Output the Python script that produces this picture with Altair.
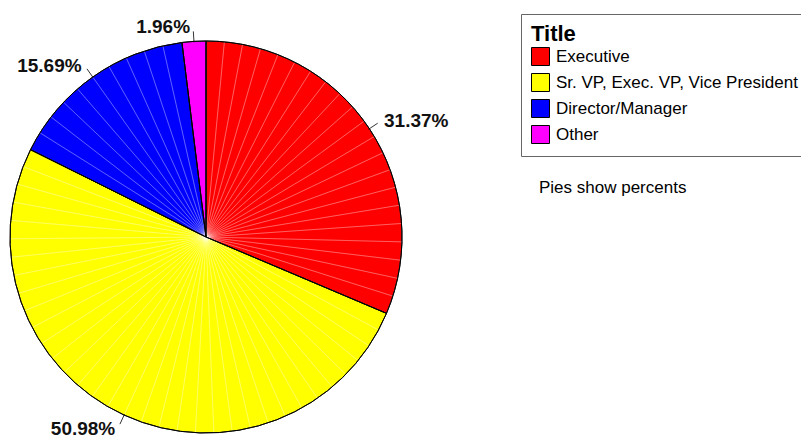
import math
import pandas as pd
import altair as alt

# ---- data ----
categories = ["Executive", "Sr. VP, Exec. VP, Vice President", "Director/Manager", "Other"]
percents = [31.37, 50.98, 15.69, 1.96]
labels = ["31.37%", "50.98%", "15.69%", "1.96%"]
colors = ["#FF0000", "#FFFF00", "#0000FF", "#FF00FF"]

# ---- layout constants (chart coordinates) ----
CX, CY, R = 198, 229, 196
STEP_DEG = 5.4  # facet size of the rendered pie polygon

total = sum(percents)
rows, sub_rows = [], []
cum = 0.0
for cat, p, lab in zip(categories, percents, labels):
    f0 = cum / total
    f1 = (cum + p) / total
    cum += p
    mid = (f0 + f1) / 2
    a = 2 * math.pi * mid
    s, c = math.sin(a), math.cos(a)
    rows.append(dict(
        category=cat, f0=f0, f1=f1, label=lab,
        lx1=CX + 195 * s, ly1=CY - 195 * c,
        lx2=CX + 206 * s, ly2=CY - 206 * c,
        tx=CX + 210 * s, ty=CY - 210 * c + (1 if c < -0.5 else 0),
        side="right" if s > 0 else "left",
    ))
    n = max(1, round((f1 - f0) * 360 / STEP_DEG))
    for k in range(n):
        sub_rows.append(dict(category=cat,
                             g0=f0 + (f1 - f0) * k / n,
                             g1=f0 + (f1 - f0) * (k + 1) / n))

main = pd.DataFrame(rows)
subs = pd.DataFrame(sub_rows)

theta_scale = alt.Scale(domain=[0, 1], range=[0, 2 * math.pi])
color_scale = alt.Scale(domain=categories, range=colors)

legend = alt.Legend(
    title="Title", orient="none", legendX=513, legendY=6,
    titleFont="Liberation Sans", titleFontSize=22, titleFontWeight="bold",
    titleColor="black", titlePadding=1,
    labelFont="Liberation Sans", labelFontSize=17, labelColor="black",
    labelOffset=6, labelLimit=400,
    symbolType="square", symbolSize=324, symbolStrokeColor="black",
    symbolStrokeWidth=1, symbolOpacity=1,
    rowPadding=3, padding=10, strokeColor="#666666", fillColor="white",
)

base_pos = dict(x=alt.value(CX), y=alt.value(CY))

filled = alt.Chart(main).mark_arc(radius=R, stroke="black", strokeWidth=1).encode(
    theta=alt.Theta("f0:Q", scale=theta_scale),
    theta2="f1:Q",
    color=alt.Color("category:N", scale=color_scale, legend=legend, sort=categories),
    **base_pos,
)

facets = alt.Chart(subs).mark_arc(
    radius=R, fill="white", fillOpacity=0, stroke="white",
    strokeOpacity=0.35, strokeWidth=0.6,
).encode(
    theta=alt.Theta("g0:Q", scale=theta_scale),
    theta2="g1:Q",
    **base_pos,
)

outline = alt.Chart(main).mark_arc(
    radius=R, fill="white", fillOpacity=0, stroke="black", strokeWidth=1,
).encode(
    theta=alt.Theta("f0:Q", scale=theta_scale),
    theta2="f1:Q",
    **base_pos,
)

leaders = alt.Chart(main).mark_rule(color="black", strokeWidth=0.8).encode(
    x=alt.X("lx1:Q", scale=None, axis=None),
    y=alt.Y("ly1:Q", scale=None, axis=None),
    x2="lx2:Q",
    y2="ly2:Q",
)

text_common = dict(font="Liberation Sans", fontSize=19, fontWeight="bold",
                   color="#111111", baseline="middle")

right_labels = alt.Chart(main).transform_filter(alt.datum.side == "right").mark_text(
    align="left", dx=3, **text_common
).encode(
    x=alt.X("tx:Q", scale=None, axis=None),
    y=alt.Y("ty:Q", scale=None, axis=None),
    text="label:N",
)

left_labels = alt.Chart(main).transform_filter(alt.datum.side == "left").mark_text(
    align="right", dx=-3, **text_common
).encode(
    x=alt.X("tx:Q", scale=None, axis=None),
    y=alt.Y("ty:Q", scale=None, axis=None),
    text="label:N",
)

note = alt.Chart(main).transform_filter(alt.datum.category == categories[0]).mark_text(
    text="Pies show percents", font="Liberation Sans", fontSize=17,
    color="black", align="left", baseline="middle",
).encode(x=alt.value(531), y=alt.value(180))

chart = alt.layer(
    filled, facets, outline, leaders, right_labels, left_labels, note
).properties(
    width=793, height=432, padding=0,
    autosize=alt.AutoSizeParams(type="none"),
    background="white",
).configure_view(stroke=None)

chart.save("out.html", embed_options={"renderer": "svg", "actions": False})
